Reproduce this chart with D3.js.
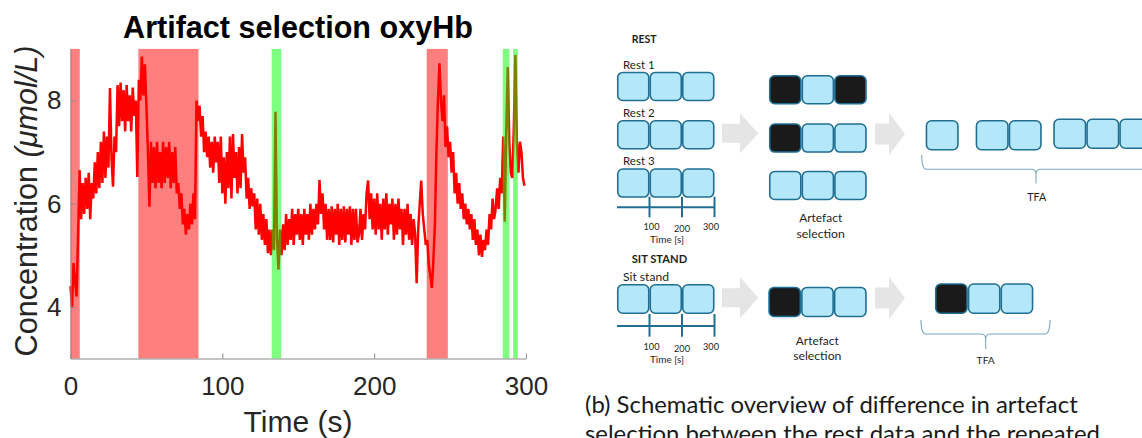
<!DOCTYPE html>
<html><head><meta charset="utf-8">
<script src="https://cdn.jsdelivr.net/npm/d3@7"></script>
<style>html,body{margin:0;padding:0;background:#fff;} svg{display:block;}</style>
</head><body>
<svg id="c" width="1142" height="438"></svg>
<script>
// ---------- DATA: left panel ----------
const sampleStep = 1; // seconds between samples
const oxyHb = [
 4.4, 4.0, 4.85, 4.5, 4.2, 5.4, 6.65, 5.7, 6.4, 5.8,
 6.5, 5.9, 6.6, 5.7, 6.4, 6.1, 6.8, 6.2, 7.0, 6.3,
 7.2, 6.4, 7.4, 6.5, 7.3, 6.7, 8.24, 6.9, 6.33, 7.3,
 7.0, 8.3, 7.5, 8.35, 7.6, 8.2, 7.4, 8.3, 7.6, 8.1,
 7.4, 8.25, 7.7, 8.0, 6.52, 8.4, 8.0, 8.85, 8.1, 8.7,
 7.9, 7.0, 5.94, 7.2, 6.4, 7.1, 6.3, 7.2, 6.4, 7.0,
 6.3, 7.2, 6.4, 7.1, 6.5, 7.2, 6.3, 7.0, 6.4, 7.1,
 6.2, 6.4, 5.9, 6.2, 5.6, 5.9, 5.4, 5.8, 5.5, 6.0,
 5.6, 6.2, 5.7, 8.0, 7.6, 7.9, 7.3, 7.7, 7.0, 7.4,
 6.9, 7.3, 6.7, 7.2, 6.6, 7.3, 6.8, 7.2, 6.4, 7.3,
 6.2, 6.9, 6.0, 7.0, 6.3, 7.3, 6.1, 7.35, 6.5, 7.0,
 6.2, 7.1, 6.3, 7.35, 6.6, 6.9, 6.1, 6.5, 5.9, 6.3,
 5.95, 6.2, 5.5, 6.1, 5.4, 6.0, 5.3, 5.8, 5.2, 5.7,
 5.04, 5.5, 5.0, 5.5, 5.1, 7.78, 5.3, 4.72, 5.5, 5.0,
 5.6, 5.1, 5.8, 5.2, 5.7, 5.3, 5.9, 5.2, 5.8, 5.4,
 5.9, 5.3, 5.8, 5.2, 5.9, 5.4, 5.8, 5.3, 6.0, 5.4,
 5.9, 5.5, 6.0, 5.6, 6.46, 5.8, 6.2, 5.5, 6.0, 5.3,
 5.9, 5.3, 5.95, 5.25, 5.9, 5.4, 6.0, 5.2, 5.9, 5.3,
 5.95, 5.25, 5.9, 5.4, 5.95, 5.2, 5.9, 5.3, 5.9, 5.25,
 5.4, 5.9, 5.3, 5.8, 5.5, 6.2, 6.45, 5.7, 6.2, 5.5,
 6.1, 5.4, 6.2, 5.5, 6.0, 5.3, 6.1, 5.5, 6.2, 5.4,
 6.0, 5.6, 6.1, 5.3, 6.0, 5.4, 6.1, 5.5, 5.9, 5.2,
 5.9, 5.4, 6.0, 5.3, 5.8, 5.2, 5.7, 5.4, 4.46, 5.5,
 6.0, 6.45, 5.8, 5.5, 5.2, 5.3, 4.8, 4.6, 4.37, 4.9,
 5.6, 7.0, 8.0, 8.72, 8.0, 7.6, 8.1, 7.1, 7.5, 6.9,
 7.2, 6.6, 7.0, 6.2, 6.6, 6.0, 6.4, 5.9, 6.2, 5.7,
 6.0, 5.6, 5.9, 5.5, 5.8, 5.3, 5.7, 5.2, 5.5, 5.0,
 5.4, 4.97, 5.3, 5.1, 5.5, 5.2, 5.8, 5.5, 6.1, 5.7,
 5.9, 6.3, 5.9, 6.5, 6.2, 7.3, 5.65, 7.4, 8.65, 7.2,
 6.6, 6.5, 7.5, 8.88, 7.2, 6.6, 7.2, 7.0, 6.5, 6.35
];
const redBands = [[0, 6.1], [44.7, 84.3], [234.6, 248.5]];
const greenBands = [[132.5, 138.8], [284.7, 289.1], [291.5, 294.6]];
const xTicks = [0, 100, 200, 300];
const yTicks = [4, 6, 8];
const xDomain = [0, 300];
const yDomain = [3, 9];

// ---------- DATA: right panel (schematic) ----------
const restRecordings = ["Rest 1", "Rest 2", "Rest 3"];
const restArtefacts = [[1, 0, 1], [1, 0, 0], [0, 0, 0]]; // 1 = rejected 100 s segment
const sitStandLabel = "Sit stand";
const sitStandArtefacts = [1, 0, 0];
const segmentTicks = [100, 200, 300];
const caption = ["(b) Schematic overview of difference in artefact",
                 "selection between the rest data and the repeated"];

// ---------- helpers ----------
const svg = d3.select("#c");
function fitWidth(sel, w) {
  const l = sel.node().getComputedTextLength();
  const fs = parseFloat(sel.attr("font-size"));
  sel.attr("font-size", fs * w / l);
  return sel;
}

// ---------- LEFT PANEL ----------
const x = d3.scaleLinear().domain(xDomain).range([70.5, 526]);
const y = d3.scaleLinear().domain(yDomain).range([358.5, 48.9]);
const gL = svg.append("g");

const line = d3.line().x((d, i) => x(i * sampleStep)).y(d => y(d));
gL.append("path").datum(oxyHb).attr("d", line)
  .attr("fill", "none").attr("stroke", "#ff0000").attr("stroke-width", 2.5)
  .attr("stroke-linejoin", "miter").attr("stroke-miterlimit", 3);

function bands(data, color) {
  gL.selectAll(null).data(data).enter().append("rect")
    .attr("x", d => x(d[0])).attr("width", d => x(d[1]) - x(d[0]))
    .attr("y", y(yDomain[1])).attr("height", y(yDomain[0]) - y(yDomain[1]))
    .attr("fill", color).attr("fill-opacity", 0.5);
}
bands(redBands, "#ff0000");
bands(greenBands, "#00ff00");

const axFont = "'Liberation Sans', Arial, Helvetica, sans-serif";
const xAxis = d3.axisBottom(x).tickValues(xTicks).tickFormat(d3.format("d")).tickSize(-5).tickSizeOuter(0).tickPadding(18);
const yAxis = d3.axisLeft(y).tickValues(yTicks).tickFormat(d3.format("d")).tickSize(-5).tickSizeOuter(0).tickPadding(9);
const gx = gL.append("g").attr("transform", `translate(0,${y(yDomain[0])})`).call(xAxis);
const gy = gL.append("g").attr("transform", `translate(${x(xDomain[0])},0)`).call(yAxis);
[gx, gy].forEach(g => {
  g.select(".domain").attr("stroke", "#8a8a8a").attr("stroke-width", 1);
  g.selectAll(".tick line").attr("stroke", "#8a8a8a");
  g.selectAll(".tick text").attr("font-family", axFont).attr("font-size", 26).attr("fill", "#262626");
});

const title = gL.append("text").attr("x", 298).attr("y", 37.5).attr("text-anchor", "middle")
  .attr("font-family", axFont).attr("font-weight", "bold").attr("font-size", 29).attr("fill", "#000")
  .text("Artifact selection oxyHb");
fitWidth(title, 350);

gL.append("text").attr("x", 298).attr("y", 432).attr("text-anchor", "middle")
  .attr("font-family", axFont).attr("font-size", 30).attr("fill", "#262626").text("Time (s)");

const yl = gL.append("text").attr("transform", "translate(37,201) rotate(-90)").attr("text-anchor", "middle")
  .attr("font-family", axFont).attr("font-size", 30).attr("fill", "#262626");
yl.append("tspan").text("Concentration ");
yl.append("tspan").attr("font-style", "italic").text("(\u03bcmol/L)");
fitWidth(yl, 311);

// ---------- RIGHT PANEL ----------
const sFont = "Lato, 'Open Sans', sans-serif";
const cellFill = "#b5e7fb", cellStroke = "#1f6f92", artFill = "#1a1a1a";
const gR = svg.append("g");

function drawBar(g, x0, x1, top, h, mask) {
  const s = d3.scaleLinear().domain([0, mask.length]).range([x0, x1]);
  g.selectAll(null).data(mask).enter().append("rect")
    .attr("x", (d, i) => s(i) + 0.75).attr("width", (d, i) => s(i + 1) - s(i) - 1.5)
    .attr("y", top + 0.75).attr("height", h - 1.5).attr("rx", 5)
    .attr("fill", d => d ? artFill : cellFill)
    .attr("stroke", cellStroke).attr("stroke-width", 1.6);
}
function txt(g, xx, yy, s, w, opts = {}) {
  const t = g.append("text").attr("x", xx).attr("y", yy).attr("font-family", sFont)
    .attr("font-size", 12).attr("fill", "#1e1e1e")
    .attr("font-weight", opts.bold ? "bold" : "normal")
    .attr("text-anchor", opts.anchor || "start").text(s);
  return fitWidth(t, w);
}
function arrow(g, x0, xs, x1, cy, hs, hh) {
  const pts = [[x0, cy - hs], [xs, cy - hs], [xs, cy - hh], [x1, cy], [xs, cy + hh], [xs, cy + hs], [x0, cy + hs]];
  g.append("polygon").attr("points", pts.map(p => p.join(",")).join(" ")).attr("fill", "#e5e5e5");
}
function brace(g, x0, x1, yEnd, yLine, xm, yTip) {
  const r = 5;
  const d = `M${x0},${yEnd} Q${x0},${yLine} ${x0 + r},${yLine} L${xm - r},${yLine} Q${xm},${yLine} ${xm},${yLine + r} L${xm},${yTip}` +
            ` M${xm},${yLine + r} Q${xm},${yLine} ${xm + r},${yLine} L${x1 - r},${yLine} Q${x1},${yLine} ${x1},${yEnd}`;
  g.append("path").attr("d", d).attr("fill", "none").attr("stroke", "#7ba7c3").attr("stroke-width", 1.1);
}
function timeline(g, segX, yLine, yTop, yBot, yLab, yTitle) {
  g.append("line").attr("x1", segX(0)).attr("x2", segX(300)).attr("y1", yLine).attr("y2", yLine)
    .attr("stroke", cellStroke).attr("stroke-width", 2);
  const labDx = [2, 0, -3.5], labDy = [0, 1.7, 0];
  segmentTicks.forEach((t, i) => {
    g.append("line").attr("x1", segX(t)).attr("x2", segX(t)).attr("y1", yTop).attr("y2", yBot)
      .attr("stroke", cellStroke).attr("stroke-width", 2);
    txt(g, segX(t) + labDx[i], yLab + labDy[i], String(t), 16, { anchor: "middle" });
  });
  txt(g, 667, yTitle, "Time [s]", 34, { anchor: "middle" });
}

// REST block
txt(gR, 631.7, 43.3, "REST", 25, { bold: true });
const segX = d3.scaleLinear().domain([0, 300]).range([617, 714.5]);
const restTops = [71.7, 120, 168.3], restLabY = [69, 117.3, 165];
const midTops = [75, 123.3, 170.7];
restRecordings.forEach((lab, i) => {
  txt(gR, 623, restLabY[i], lab, 31.7);
  drawBar(gR, segX(0), segX(300), restTops[i], 29.5, [0, 0, 0]);
  drawBar(gR, 769, 866.7, midTops[i], 29.5, restArtefacts[i]);
});
timeline(gR, segX, 207.3, 196.7, 217.3, 230, 243.3);
arrow(gR, 722, 740, 758.3, 133.3, 9.5, 20);
arrow(gR, 875, 889, 905, 134, 10.5, 21);
txt(gR, 820.7, 222.3, "Artefact", 43, { anchor: "middle" });
txt(gR, 820.7, 238.3, "selection", 48.3, { anchor: "middle" });

// TFA for rest: kept segments of every recording, concatenated
const tfaStarts = [925.7, 975.7, 1053.3], tfaTops = [120, 120, 118.5];
restArtefacts.forEach((m, i) => {
  const kept = m.filter(v => v === 0).map(() => 0);
  drawBar(gR, tfaStarts[i], tfaStarts[i] + kept.length * 33, tfaTops[i], 30.5, kept);
});
brace(gR, 921.7, 1170, 155, 169.3, 1036, 183.3);
txt(gR, 1036.7, 201, "TFA", 19, { anchor: "middle" });

// SIT STAND block
txt(gR, 631.7, 263.3, "SIT STAND", 55.6, { bold: true });
txt(gR, 623, 280.7, sitStandLabel, 46);
drawBar(gR, segX(0), segX(300), 284, 30, [0, 0, 0]);
timeline(gR, segX, 326, 314, 336.7, 350, 362.7);
arrow(gR, 722, 740, 758.3, 297.8, 9.5, 20.5);
drawBar(gR, 768.3, 866.7, 286.7, 30.5, sitStandArtefacts);
txt(gR, 817.3, 345, "Artefact", 43, { anchor: "middle" });
txt(gR, 817.3, 360, "selection", 48.3, { anchor: "middle" });
arrow(gR, 875, 889, 905, 298, 10.5, 21);
drawBar(gR, 935, 1033.3, 283.3, 30.7, sitStandArtefacts);
brace(gR, 921, 1050, 320, 334, 985.7, 349.3);
txt(gR, 985.7, 364, "TFA", 18.3, { anchor: "middle" });

// caption
const cap1 = gR.append("text").attr("x", 585).attr("y", 413.3).attr("font-family", sFont)
  .attr("font-size", 25).attr("fill", "#1a1a1a").text(caption[0]);
fitWidth(cap1, 493);
gR.append("text").attr("x", 585).attr("y", 442).attr("font-family", sFont)
  .attr("font-size", cap1.attr("font-size")).attr("fill", "#1a1a1a").text(caption[1]);
</script>
</body></html>
